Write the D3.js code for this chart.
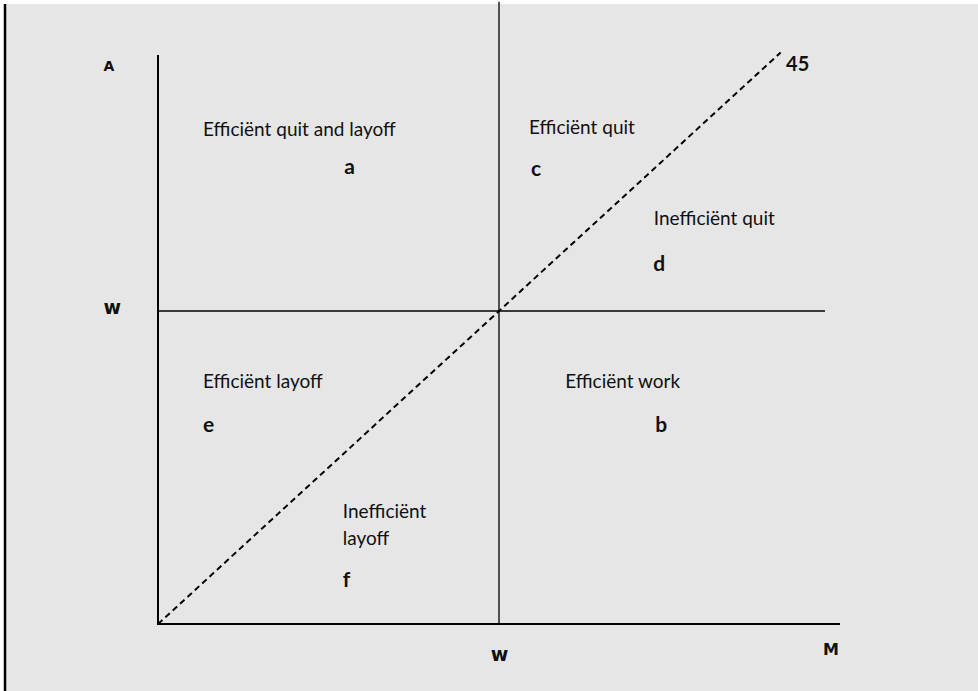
<!doctype html>
<html lang="en">

<head>
    <meta charset="utf-8">
    <title>Efficient quits and layoffs</title>
    <script src="https://cdn.jsdelivr.net/npm/d3@7"></script>
    <style>
        body { margin: 0; background: #fff; }
        .region { font-family: Lato, "Open Sans", sans-serif; font-size: 19px; fill: #111; }
        .tag { font-family: Lato, "Open Sans", sans-serif; font-size: 21px; font-weight: bold; fill: #111; }
        .axislabel { font-family: "DejaVu Sans", sans-serif; font-weight: bold; fill: #111; }
    </style>
</head>

<body>
    <svg id="chart" width="978" height="691"></svg>
</body>

<script>
    // wage level w sits at 50 on both axes
    var wage = 50;
    var axisMaxX = 100, axisMaxY = 90.9;
    var wageLineTop = 99.4, wageLineRight = 97.8;
    var diagonalEnd = 91.3;

    // region descriptions [text, x, y] in chart units
    var regionTexts = [
        ["Efficiënt quit and layoff", 6.6, 78],
        ["Efficiënt quit", 54.4, 78.3],
        ["Inefficiënt quit", 72.7, 63.7],
        ["Efficiënt layoff", 6.6, 37.7],
        ["Efficiënt work", 59.7, 37.7],
        ["Inefficiënt", 27.1, 16.9],
        ["layoff", 27.1, 12.6]
    ];
    var regionTags = [
        ["a", 27.3, 71.9],
        ["c", 54.7, 71.6],
        ["d", 72.6, 56.4],
        ["e", 6.6, 30.7],
        ["b", 72.9, 30.7],
        ["f", 27.1, 5.9]
    ];
    // axis letters [text, x, y, size]
    var axisLetters = [
        ["A", -8, 88.4, 14],
        ["w", -8, 49.5, 19],
        ["w", wage - 1.2, -5.9, 19],
        ["M", 97.5, -5, 16],
        ["45", 92.1, 88.4, 20]
    ];

    var svg = d3.select("#chart");
    var x = d3.scaleLinear().domain([0, 100]).range([158, 840]);
    var y = d3.scaleLinear().domain([0, 100]).range([624, -2]);

    svg.append("rect").attr("x", 6).attr("y", 4).attr("width", 972).attr("height", 687).style("fill", "#e6e6e6");
    svg.append("line").attr("x1", 5).attr("x2", 5).attr("y1", 4).attr("y2", 691)
        .style("stroke", "#000").style("stroke-width", 2.5);

    // axes
    svg.append("line").attr("x1", x(0)).attr("x2", x(0)).attr("y1", y(0)).attr("y2", y(axisMaxY))
        .style("stroke", "#000").style("stroke-width", 2);
    svg.append("line").attr("x1", x(0) - 1).attr("x2", x(axisMaxX)).attr("y1", y(0)).attr("y2", y(0))
        .style("stroke", "#000").style("stroke-width", 2);

    // wage lines
    svg.append("line").attr("x1", x(wage)).attr("x2", x(wage)).attr("y1", y(0)).attr("y2", y(wageLineTop))
        .style("stroke", "#000").style("stroke-width", 1.3);
    svg.append("line").attr("x1", x(0)).attr("x2", x(wageLineRight)).attr("y1", y(wage)).attr("y2", y(wage))
        .style("stroke", "#000").style("stroke-width", 1.3);

    // 45 degree line
    svg.append("line").attr("x1", x(0)).attr("y1", y(0)).attr("x2", x(diagonalEnd)).attr("y2", y(diagonalEnd))
        .style("stroke", "#000").style("stroke-width", 2).style("stroke-dasharray", "6,4");

    svg.selectAll("text.region").data(regionTexts).enter().append("text").attr("class", "region")
        .attr("x", d => x(d[1])).attr("y", d => y(d[2])).text(d => d[0]);
    svg.selectAll("text.tag").data(regionTags).enter().append("text").attr("class", "tag")
        .attr("x", d => x(d[1])).attr("y", d => y(d[2])).text(d => d[0]);
    svg.selectAll("text.axislabel").data(axisLetters).enter().append("text").attr("class", "axislabel")
        .attr("x", d => x(d[1])).attr("y", d => y(d[2])).style("font-size", d => d[3] + "px")
        .style("font-family", d => d[0] == "45" ? "Lato, sans-serif" : null).text(d => d[0]);
</script>

</html>
